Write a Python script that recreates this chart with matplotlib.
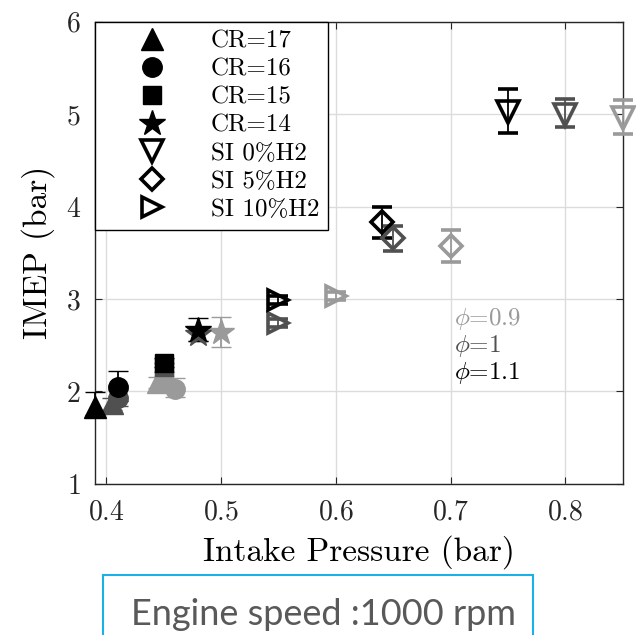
import numpy as np
import matplotlib as mpl
mpl.use("Agg")
import matplotlib.pyplot as plt
from matplotlib.lines import Line2D
from matplotlib.patches import Rectangle

plt.rcParams['font.family'] = 'cmr10'
plt.rcParams['mathtext.fontset'] = 'cm'
plt.rcParams['axes.formatter.use_mathtext'] = True

# equivalence ratio groups, drawn light grey -> black
phi_labels = ['0.9', '1', '1.1']
phi_colors = ['#9a9a9a', '#505050', '#000000']

# one value per phi group in each list (0.9, 1, 1.1)
cr17_x = [0.445, 0.405, 0.39]
cr17_y = [2.10, 1.87, 1.83]
cr17_lo = [0.06, 0.07, 0.09]
cr17_hi = [0.06, 0.06, 0.16]

cr16_x = [0.46, 0.41, 0.41]
cr16_y = [2.03, 1.93, 2.05]
cr16_lo = [0.09, 0.09, 0.15]
cr16_hi = [0.11, 0.08, 0.17]

cr15_x = [0.45, 0.45, 0.45]
cr15_y = [2.12, 2.26, 2.31]
cr15_lo = [0.05, 0.05, 0.05]
cr15_hi = [0.05, 0.05, 0.05]

cr14_x = [0.50, 0.48, 0.48]
cr14_y = [2.64, 2.62, 2.66]
cr14_lo = [0.16, 0.08, 0.11]
cr14_hi = [0.17, 0.08, 0.13]

si0_x = [0.85, 0.80, 0.75]
si0_y = [4.96, 4.99, 5.02]
si0_lo = [0.18, 0.13, 0.23]
si0_hi = [0.19, 0.17, 0.25]

si5_x = [0.70, 0.65, 0.64]
si5_y = [3.57, 3.66, 3.83]
si5_lo = [0.17, 0.14, 0.17]
si5_hi = [0.18, 0.13, 0.17]

si10_x = [0.60, 0.55, 0.55]
si10_y = [3.03, 2.74, 2.99]
si10_lo = [0.04, 0.04, 0.04]
si10_hi = [0.04, 0.04, 0.04]

series_labels = ['CR=17', 'CR=16', 'CR=15', 'CR=14', 'SI 0%H2', 'SI 5%H2', 'SI 10%H2']
series_x = [cr17_x, cr16_x, cr15_x, cr14_x, si0_x, si5_x, si10_x]
series_y = [cr17_y, cr16_y, cr15_y, cr14_y, si0_y, si5_y, si10_y]
series_lo = [cr17_lo, cr16_lo, cr15_lo, cr14_lo, si0_lo, si5_lo, si10_lo]
series_hi = [cr17_hi, cr16_hi, cr15_hi, cr14_hi, si0_hi, si5_hi, si10_hi]

# marker styles
markers = ['^', 'o', 's', '*', 'v', 'D', '>']
filled = [True, True, True, True, False, False, False]
msizes = [16, 14, 13, 19, 16, 11, 14]

fig = plt.figure(figsize=(6.36, 6.35), dpi=100)
ax = fig.add_axes([0.149, 0.238, 0.830, 0.728])

for k in range(len(phi_labels)):
    c = phi_colors[k]
    for s in range(len(series_labels)):
        eb = ax.errorbar([series_x[s][k]], [series_y[s][k]],
                         yerr=[[series_lo[s][k]], [series_hi[s][k]]],
                         fmt=markers[s], color=c, mec=c,
                         mfc=c if filled[s] else 'none',
                         ms=msizes[s], mew=1 if filled[s] else 2.6,
                         capsize=7, elinewidth=1.3, capthick=1.3, zorder=3)
        eb.lines[0].set_clip_on(False)
        for a in list(eb.lines[1]) + list(eb.lines[2]):
            a.set_clip_on(False)

ax.set_xlim(0.39, 0.85)
ax.set_ylim(1, 6)
ax.set_xticks([0.4, 0.5, 0.6, 0.7, 0.8])
ax.set_yticks([1, 2, 3, 4, 5, 6])
ax.grid(True, color='#dcdcdc', lw=1.0)
ax.set_axisbelow(True)
ax.tick_params(direction='in', top=True, right=True, length=5, width=0.8,
               labelsize=20, colors='#262626')
ax.tick_params(axis='x', pad=11)
ax.tick_params(axis='y', pad=10)
for sp in ax.spines.values():
    sp.set_color('#262626')
    sp.set_linewidth(1.0)
ax.set_xlabel('Intake Pressure (bar)', fontsize=24, labelpad=7)
ax.set_ylabel('IMEP (bar)', fontsize=24, labelpad=8)

handles = []
for s in range(len(series_labels)):
    handles.append(Line2D([], [], ls='none', marker=markers[s], color='k', mec='k',
                          mfc='k' if filled[s] else 'none', ms=msizes[s],
                          mew=1 if filled[s] else 2.6))
leg = ax.legend(handles, series_labels, loc='upper left', bbox_to_anchor=(0, 1),
                borderaxespad=0, fontsize=18, handlelength=3.9, handletextpad=0.4,
                labelspacing=0.22, fancybox=False, edgecolor='k', framealpha=1,
                borderpad=0.35)
leg.get_frame().set_linewidth(1.0)

phi_y = [2.78, 2.49, 2.20]
for k in range(len(phi_labels)):
    ax.text(0.703, phi_y[k], r'$\phi$=' + phi_labels[k], color=phi_colors[k],
            fontsize=18, va='center', ha='left')

# caption box at the bottom
rect = Rectangle((103 / 636, -0.05), 430 / 636, 0.0945 + 0.05, transform=fig.transFigure,
                 fill=False, ec='#1ab0e8', lw=1.5, clip_on=False)
fig.patches.append(rect)
fig.text(0.509, 0.016, 'Engine speed :1000 rpm', ha='center', va='baseline',
         fontsize=26, color='#595959', family=['Lato', 'DejaVu Sans'])

fig.savefig('out.png', dpi=100)
